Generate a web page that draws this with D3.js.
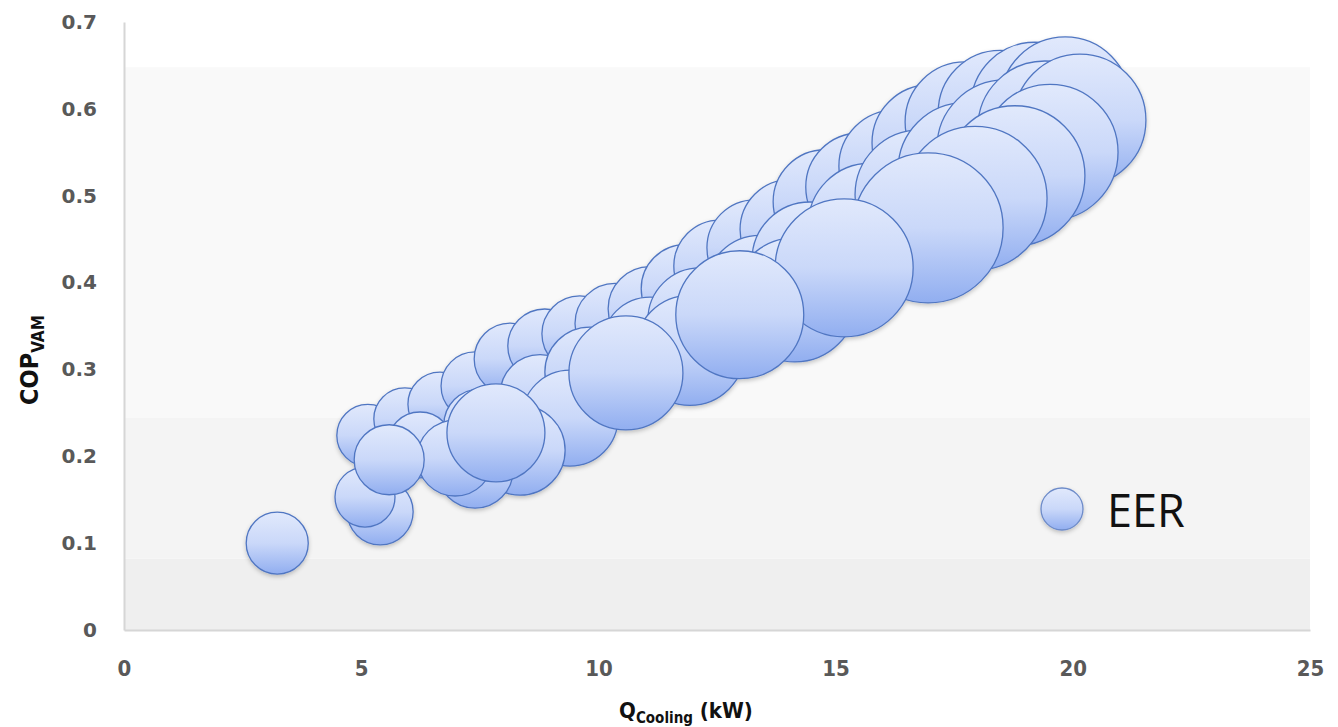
<!DOCTYPE html>
<html>
<head>
<meta charset="utf-8">
<script src="https://cdn.jsdelivr.net/npm/d3@7/dist/d3.min.js"></script>
<style>
  html, body { margin: 0; padding: 0; background: #ffffff; }
  svg { display: block; }
</style>
</head>
<body>
<svg id="chart" width="1338" height="727"></svg>
<script>
// Cooling capacity (kW), absorption chiller COP and EER for each operating point,
// listed in drawing order (back to front).
const qCooling = [
  5.14, 5.92, 6.66, 7.40, 8.14, 8.87, 9.61, 10.35, 11.09, 11.83, 12.56,
  13.30, 14.04, 14.78, 15.51, 16.25, 16.99, 17.73, 18.47, 19.20, 19.84,
  6.24, 7.50, 8.77, 9.82, 11.09, 12.14, 13.41, 14.46, 15.73, 16.78, 17.73, 18.57, 19.41,
  20.15, 19.52, 18.78, 17.94, 14.14, 16.95, 15.18, 11.93, 12.98, 9.40, 10.58,
  8.35, 7.40, 6.98, 7.84, 5.40, 5.08, 5.59, 3.23
];
const copVam = [
  0.224, 0.243, 0.260, 0.281, 0.312, 0.327, 0.341, 0.353, 0.370, 0.393, 0.419,
  0.440, 0.461, 0.493, 0.510, 0.534, 0.561, 0.585, 0.596, 0.603, 0.608,
  0.213, 0.236, 0.271, 0.297, 0.328, 0.357, 0.391, 0.426, 0.466, 0.501, 0.530, 0.555, 0.578,
  0.587, 0.550, 0.523, 0.497, 0.380, 0.463, 0.417, 0.322, 0.363, 0.244, 0.296,
  0.207, 0.184, 0.198, 0.227, 0.136, 0.153, 0.196, 0.100
];
const eer = [
  1.54, 1.54, 1.64, 1.85, 2.07, 2.19, 2.31, 2.56, 2.82, 3.10, 3.39,
  3.69, 4.00, 4.33, 4.67, 5.02, 5.38, 5.76, 6.15, 6.55, 6.76,
  1.74, 2.07, 2.56, 3.24, 3.69, 4.33, 4.84, 5.38, 6.15, 6.76, 7.18, 7.40, 7.18,
  6.97, 7.40, 7.84, 8.29, 6.15, 9.00, 7.62, 4.84, 6.55, 3.69, 5.20,
  3.24, 2.31, 2.31, 3.84, 1.74, 1.44, 1.96, 1.54
];

const xTicks = [0, 5, 10, 15, 20, 25];
const yTicks = [0, 0.1, 0.2, 0.3, 0.4, 0.5, 0.6, 0.7];
const seriesName = "EER";

const points = qCooling.map((q, i) => ({ q, cop: copVam[i], eer: eer[i] }));

const svg = d3.select("#chart");

const x = d3.scaleLinear().domain([0, 25]).range([124, 1310]);
const y = d3.scaleLinear().domain([0, 0.7]).range([630, 22]);
const r = d3.scaleSqrt().domain([0, 9]).range([0, 75]);

// --- definitions: bubble gradient and soft shadow ---
const defs = svg.append("defs");
const grad = defs.append("linearGradient")
  .attr("id", "bubbleFill")
  .attr("x1", 0).attr("y1", 0).attr("x2", 0).attr("y2", 1);
grad.append("stop").attr("offset", "0%").attr("stop-color", "#e1e9fc");
grad.append("stop").attr("offset", "50%").attr("stop-color", "#cad8f9");
grad.append("stop").attr("offset", "100%").attr("stop-color", "#91aef0");

const shadow = defs.append("filter")
  .attr("id", "softShadow")
  .attr("x", "-10%").attr("y", "-10%").attr("width", "120%").attr("height", "130%");
shadow.append("feDropShadow")
  .attr("dx", 0).attr("dy", 2).attr("stdDeviation", 2)
  .attr("flood-color", "#000").attr("flood-opacity", 0.22);

// --- plot area background bands ---
const bands = [
  { from: 0.0, to: 0.082, color: "#efefef" },
  { from: 0.082, to: 0.244, color: "#f4f4f4" },
  { from: 0.244, to: 0.648, color: "#f9f9f9" }
];
svg.append("g").selectAll("rect").data(bands).join("rect")
  .attr("x", x(0))
  .attr("width", x(25) - x(0))
  .attr("y", d => y(d.to))
  .attr("height", d => y(d.from) - y(d.to))
  .attr("fill", d => d.color);

// --- axes ---
const xAxis = svg.append("g")
  .attr("transform", `translate(0,${y(0)})`)
  .call(d3.axisBottom(x).tickValues(xTicks).tickSize(0).tickPadding(30).tickFormat(d3.format("d")));
xAxis.select(".domain").attr("stroke", "#d6d6d6").attr("stroke-width", 2);
xAxis.selectAll("text")
  .attr("fill", "#595959")
  .style("font-family", "'Liberation Sans Narrow', 'DejaVu Sans Condensed', sans-serif")
  .style("font-weight", "bold")
  .style("font-size", "22px");

const yAxis = svg.append("g")
  .attr("transform", `translate(${x(0)},0)`)
  .call(d3.axisLeft(y).tickValues(yTicks).tickSize(0).tickPadding(27)
    .tickFormat(d => d === 0 ? "0" : d3.format(".1f")(d)));
yAxis.select(".domain").attr("stroke", "#d6d6d6").attr("stroke-width", 2);
yAxis.selectAll("text")
  .attr("fill", "#595959")
  .style("font-family", "'DejaVu Sans', sans-serif")
  .style("font-weight", "bold")
  .style("font-size", "20px");

// --- bubbles ---
svg.append("g")
  .attr("filter", "url(#softShadow)")
  .selectAll("circle").data(points).join("circle")
  .attr("cx", d => x(d.q))
  .attr("cy", d => y(d.cop))
  .attr("r", d => r(d.eer))
  .attr("fill", "url(#bubbleFill)")
  .attr("stroke", "#5076c2")
  .attr("stroke-width", 1.3);

// --- legend ---
const legend = svg.append("g").attr("transform", "translate(1062,509)");
legend.append("circle")
  .attr("r", 21)
  .attr("fill", "url(#bubbleFill)")
  .attr("stroke", "#6d8bc9")
  .attr("stroke-width", 1.3)
  .attr("filter", "url(#softShadow)");
legend.append("text")
  .attr("x", 45).attr("y", 18)
  .attr("fill", "#111")
  .style("font-family", "'Open Sans', sans-serif")
  .style("font-size", "45px")
  .text(seriesName);

// --- axis titles ---
const titleFont = "'Liberation Sans Narrow', 'DejaVu Sans Condensed', sans-serif";
const xTitle = svg.append("text")
  .attr("x", 686).attr("y", 718)
  .attr("text-anchor", "middle")
  .attr("fill", "#111")
  .style("font-family", titleFont)
  .style("font-weight", "bold")
  .style("font-size", "22px");
xTitle.append("tspan").text("Q");
xTitle.append("tspan").attr("dy", 5).style("font-size", "15px").text("Cooling");
xTitle.append("tspan").attr("dy", -5).text(" (kW)");

const yTitle = svg.append("text")
  .attr("transform", "translate(38,360) rotate(-90)")
  .attr("text-anchor", "middle")
  .attr("fill", "#111")
  .style("font-family", titleFont)
  .style("font-weight", "bold")
  .style("font-size", "25px");
yTitle.append("tspan").text("COP");
yTitle.append("tspan").attr("dy", 6).style("font-size", "17px").text("VAM");
</script>
</body>
</html>
